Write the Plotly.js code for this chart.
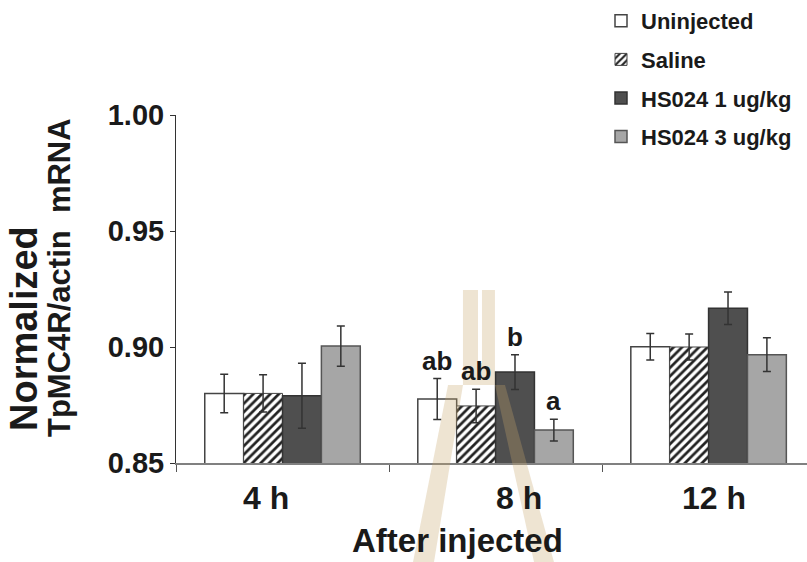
<!DOCTYPE html>
<html>
<head>
<meta charset="utf-8">
<script src="https://cdn.plot.ly/plotly-3.0.1.min.js"></script>
<style>html,body{margin:0;padding:0;background:#fff;}#chart{width:807px;height:562px;}</style>
</head>
<body>
<div id="chart"></div>
<script>
// ---- data ----
const categories = ['4 h', '8 h', '12 h'];
const seriesNames = ['Uninjected', 'Saline', 'HS024 1 ug/kg', 'HS024 3 ug/kg'];
const uninjected = [0.880, 0.8776, 0.9001];
const uninjectedErr = [0.0083, 0.0088, 0.0057];
const saline = [0.880, 0.8746, 0.900];
const salineErr = [0.0080, 0.0072, 0.0056];
const hs1 = [0.879, 0.8892, 0.9167];
const hs1Err = [0.0140, 0.0075, 0.0070];
const hs3 = [0.9004, 0.8642, 0.8967];
const hs3Err = [0.0087, 0.0047, 0.0073];
const letters8h = ['ab', 'ab', 'b', 'a'];
const yTickVals = [0.85, 0.90, 0.95, 1.00];
const yTickText = ['0.85', '0.90', '0.95', '1.00'];

// ---- layout helpers ----
const L = 176, R = 807, T = 115, B = 463;
const px2x = px => (px - L) / (R - L);
const px2y = py => (B - py) / (B - T);
const P = (px, py) => px2x(px).toFixed(4) + ',' + px2y(py).toFixed(4);

const FONT = 'Liberation Sans, Arial, sans-serif';
const TXT = '#1a1a1a';

const values = [uninjected, saline, hs1, hs3];
const errs = [uninjectedErr, salineErr, hs1Err, hs3Err];
const markers = [
  {color: '#ffffff', line: {color: '#444444', width: 1.5}},
  {color: '#ffffff', pattern: {shape: '/', fgcolor: '#222222', bgcolor: '#ffffff', size: 6, solidity: 0.45}, line: {color: '#444444', width: 1}},
  {color: '#4f4f4f', line: {color: '#333333', width: 1.5}},
  {color: '#a6a6a6', line: {color: '#555555', width: 1.5}}
];

const traces = seriesNames.map((n, i) => ({
  type: 'bar',
  name: n,
  legendgroup: 'g' + i,
  x: categories,
  y: values[i],
  marker: markers[i],
  error_y: {type: 'data', array: errs[i], visible: true, color: '#333333', thickness: 1.5, width: 4},
  hoverinfo: 'x+y+name'
}));

const offsets = [-58.3, -19.4, 19.4, 58.3];
const annotations = [];
letters8h.forEach((t, i) => {
  annotations.push({
    x: categories[1], xref: 'x', y: values[i][1] + errs[i][1], yref: 'y',
    text: t, showarrow: false, xanchor: 'center', yanchor: 'bottom',
    xshift: offsets[i], yshift: 1,
    font: {family: FONT, size: 26, weight: 700, color: TXT}
  });
});
const xLabelShift = [-17, 23, 5];
categories.forEach((c, i) => {
  annotations.push({
    x: c, xref: 'x', y: px2y(498), yref: 'paper', text: c, showarrow: false,
    xanchor: 'center', yanchor: 'middle', xshift: xLabelShift[i],
    font: {family: FONT, size: 32, weight: 700, color: TXT}
  });
});
annotations.push({
  x: px2x(457), xref: 'paper', y: px2y(540), yref: 'paper', text: 'After injected',
  showarrow: false, xanchor: 'center', yanchor: 'middle',
  font: {family: FONT, size: 33, weight: 700, color: TXT}
});
annotations.push({
  x: px2x(24), xref: 'paper', y: px2y(329), yref: 'paper', text: 'Normalized',
  showarrow: false, textangle: -90, xanchor: 'center', yanchor: 'middle',
  font: {family: FONT, size: 38, weight: 700, color: TXT}
});
annotations.push({
  x: px2x(59), xref: 'paper', y: px2y(278), yref: 'paper', text: 'TpMC4R/actin\u00a0 mRNA',
  showarrow: false, textangle: -90, xanchor: 'center', yanchor: 'middle',
  font: {family: FONT, size: 31, weight: 700, color: TXT}
});

const wm = 'rgba(200,165,105,0.30)';
const shapes = [
  {type: 'path', xref: 'paper', yref: 'paper', layer: 'above', fillcolor: wm, line: {width: 0},
   path: 'M' + P(463, 290) + 'L' + P(478, 290) + 'L' + P(478, 363) + 'L' + P(482, 363) + 'L' + P(482, 290) + 'L' + P(495, 290) + 'L' + P(495, 385) + 'L' + P(463, 385) + 'Z'},
  {type: 'path', xref: 'paper', yref: 'paper', layer: 'above', fillcolor: wm, line: {width: 0},
   path: 'M' + P(448, 385) + 'L' + P(463, 385) + 'L' + P(434, 562) + 'L' + P(413, 562) + 'Z'},
  {type: 'path', xref: 'paper', yref: 'paper', layer: 'above', fillcolor: wm, line: {width: 0},
   path: 'M' + P(495, 385) + 'L' + P(505, 385) + 'L' + P(554, 562) + 'L' + P(534, 562) + 'Z'}
];

const layout = {
  width: 807, height: 562,
  margin: {l: L, r: 807 - R, t: T, b: 562 - B, pad: 0, autoexpand: false},
  paper_bgcolor: '#ffffff', plot_bgcolor: '#ffffff',
  barmode: 'group', bargap: 0.27, bargroupgap: 0,
  showlegend: true,
  legend: {
    xref: 'container', yref: 'container', x: 601 / 807, y: 1,
    xanchor: 'left', yanchor: 'top', traceorder: 'grouped', tracegroupgap: 7,
    font: {family: FONT, size: 22, weight: 700, color: TXT},
    bgcolor: 'rgba(0,0,0,0)'
  },
  xaxis: {
    type: 'category', range: [-0.5, 2.462], showline: true, linecolor: '#808080', linewidth: 2,
    ticks: 'outside', tickson: 'boundaries', ticklen: 7, tickcolor: '#555555', tickwidth: 1,
    showticklabels: false, showgrid: false, zeroline: false, fixedrange: true
  },
  yaxis: {
    range: [0.85, 1.0], tickvals: yTickVals, ticktext: yTickText,
    ticks: 'outside', ticklen: 5, tickcolor: '#333333', showline: true, linecolor: '#333333', linewidth: 1,
    showgrid: false, zeroline: false, fixedrange: true,
    tickfont: {family: FONT, size: 29, weight: 700, color: TXT}
  },
  annotations: annotations,
  shapes: shapes
};

Plotly.newPlot('chart', traces, layout, {displayModeBar: false, staticPlot: true});
</script>
</body>
</html>
